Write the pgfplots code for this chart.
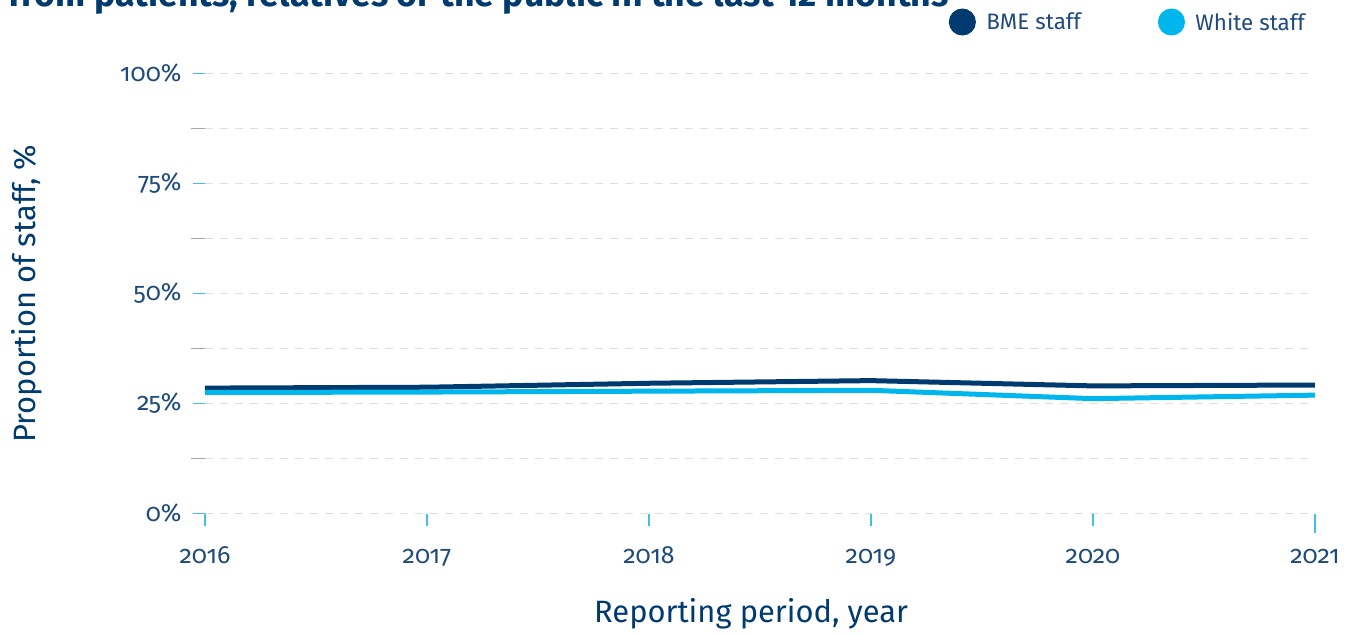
\documentclass[border=0pt]{standalone}
\usepackage{pgfplots}
\pgfplotsset{compat=1.18}
\usepackage{fontspec}
\setmainfont{Fira Sans}[Numbers=OldStyle]
\definecolor{bme}{HTML}{003A6E}
\definecolor{wht}{HTML}{00B6ED}
\definecolor{txt}{HTML}{1F4A7C}
\definecolor{grd}{HTML}{DEDEDE}
\definecolor{tickb}{HTML}{3FC0EC}
\begin{document}
\begin{tikzpicture}
\useasboundingbox (-205bp,-120.5bp) rectangle (1150bp,513.5bp);
\clip (-205bp,-120.5bp) rectangle (1150bp,513.5bp);
\begin{axis}[
  at={(0,0)}, anchor=south west,
  scale only axis, width=1110bp, height=440bp,
  xmin=2016, xmax=2021, ymin=0, ymax=100,
  xtick={2016,2017,2018,2019,2020,2021},
  xticklabels={2016,2017,2018,2019,2020,2021},
  ytick={0,25,50,75,100},
  yticklabels={0\%,25\%,50\%,75\%,100\%},
  minor ytick={12.5,37.5,62.5,87.5},
  axis x line*=bottom, axis y line*=left,
  axis line style={draw=none},
  tick align=outside, major tick length=12bp, minor tick length=14bp,
  ymajorgrids, yminorgrids,
  major grid style={grd, line width=1.3bp, dash pattern=on 8bp off 7bp},
  minor grid style={grd, line width=1.3bp, dash pattern=on 8bp off 7bp},
  major tick style={tickb, line width=1.3bp},
  minor tick style={black!35, line width=1.3bp},
  xtick style={tickb, line width=1.3bp, shorten <=-7bp},
  ticklabel style={font=\fontsize{25}{29}\selectfont, text=txt},
  yticklabel style={xshift=-8bp},
  xticklabel style={yshift=-28bp, text height=0.7em, text depth=0.25em},
  /pgf/number format/assume math mode=true,
  xlabel={Reporting period, year},
  ylabel={Proportion of staff, \%},
  label style={font=\fontsize{31}{36}\selectfont, text=bme},
  x label style={at={(axis description cs:0.492,-0.227)}, anchor=center},
  y label style={at={(axis description cs:-0.161,0.5)}, anchor=center, rotate=0},
  legend image code/.code={\path[draw=none,fill=none] (0bp,0bp) -- (33bp,0bp); \fill (11bp,0bp) circle (11bp);},
  legend style={draw=none, fill=none, inner sep=0pt,
    at={(axis description cs:0.670,1.117)}, anchor=west,
    font=\fontsize{22.5}{27}\selectfont, text=txt,
    /tikz/every even column/.append style={column sep=75bp}},
  legend columns=2,
  legend cell align=left,
  clip=false,
]
\addplot[bme, line width=5bp, line join=round] coordinates {
  (2016,28.5) (2017,28.7) (2018,29.6) (2019,30.2) (2020,29.0) (2021,29.2)};
\addlegendentry{BME staff}
\addplot[wht, line width=5bp, line join=round] coordinates {
  (2016,27.5) (2017,27.6) (2018,27.8) (2019,28.0) (2020,26.1) (2021,26.9)};
\addlegendentry{White staff}
\node[anchor=base west, font=\bfseries\fontsize{35.8}{40}\selectfont, text=bme]
  at (axis description cs:-0.180,1.1515)
  {from patients, relatives or the public in the last 12 months};
\end{axis}
\end{tikzpicture}
\end{document}
